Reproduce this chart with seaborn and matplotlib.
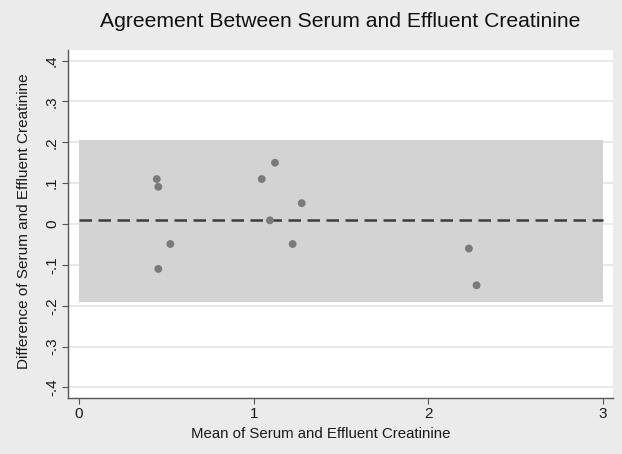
import matplotlib
matplotlib.use("Agg")
import matplotlib.pyplot as plt
import seaborn as sns
import pandas as pd

# Mean and difference of serum vs effluent creatinine for each patient
mean_creat = [0.445, 0.454, 0.523, 0.454, 1.046, 1.122, 1.093, 1.275, 1.223, 2.232, 2.276]
diff_creat = [0.11, 0.091, -0.049, -0.11, 0.11, 0.15, 0.009, 0.051, -0.049, -0.06, -0.15]

# Mean difference and limits of agreement
bias = 0.01
upper_loa = 0.205
lower_loa = -0.19

x_ticks = [0, 1, 2, 3]
y_ticks = [-0.4, -0.3, -0.2, -0.1, 0, 0.1, 0.2, 0.3, 0.4]
y_tick_labels = ["-.4", "-.3", "-.2", "-.1", "0", ".1", ".2", ".3", ".4"]

df = pd.DataFrame({"mean": mean_creat, "diff": diff_creat})

sns.set_style("white")
plt.rcParams["font.family"] = ["Liberation Sans", "DejaVu Sans"]

fig = plt.figure(figsize=(6.22, 4.54), dpi=100, facecolor="#ebebeb")
ax = fig.add_axes([68 / 622, 1 - 398 / 454, (613 - 68) / 622, (398 - 50) / 454])
ax.set_facecolor("white")

# Limits-of-agreement band and mean difference line
ax.fill_between([0, 3], lower_loa, upper_loa, color="#d3d3d3", linewidth=0, zorder=1)
ax.plot([0, 3], [bias, bias], color="#3c3c3c", linewidth=1.8,
        dashes=(5, 2.6), zorder=3)

sns.scatterplot(data=df, x="mean", y="diff", ax=ax, color="#7a7a7a",
                s=32, edgecolor="none", zorder=4)

ax.set_xlim(-0.063, 3.057)
ax.set_ylim(-0.426, 0.426)
ax.set_xticks(x_ticks)
ax.set_xticklabels([str(t) for t in x_ticks])
ax.set_yticks(y_ticks)
ax.set_yticklabels(y_tick_labels, rotation=90, va="center")

ax.yaxis.grid(True, color="#e4e4e4", linewidth=1.2, zorder=0)
ax.xaxis.grid(False)
ax.set_axisbelow(True)

for side in ["top", "right"]:
    ax.spines[side].set_visible(False)
for side in ["left", "bottom"]:
    ax.spines[side].set_color("#555555")
    ax.spines[side].set_linewidth(1.0)

ax.tick_params(axis="both", which="major", direction="out", length=4,
               width=0.8, color="#555555", labelsize=11, labelcolor="#1a1a1a",
               left=True, bottom=True, pad=2.5)

ax.set_xlabel("Mean of Serum and Effluent Creatinine", fontsize=10.8,
              color="#1a1a1a")
ax.xaxis.set_label_coords((321 - 68) / (613 - 68), -0.083)
ax.set_ylabel("Difference of Serum and Effluent Creatinine", fontsize=11,
              color="#1a1a1a")
ax.yaxis.set_label_coords((31 - 68) / (613 - 68), 0.508)

fig.text(0.547, 0.953, "Agreement Between Serum and Effluent Creatinine",
         ha="center", va="center", fontsize=15.2, color="#111111")

fig.savefig("out.png", dpi=100, facecolor=fig.get_facecolor())
